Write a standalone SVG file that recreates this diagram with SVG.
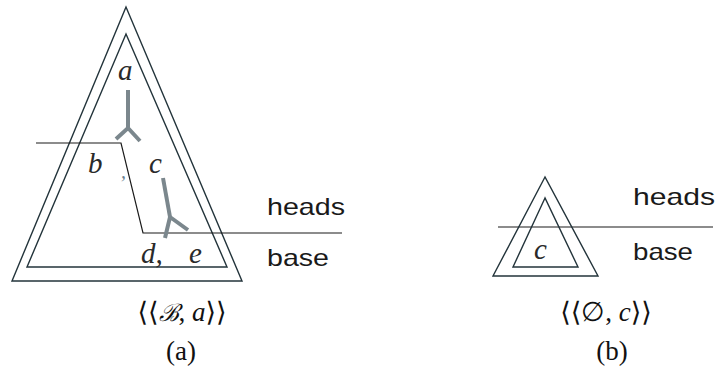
<svg xmlns="http://www.w3.org/2000/svg" width="720" height="369" viewBox="0 0 720 369">
<style>
.tri{fill:none;stroke:#23343b;stroke-width:1.4}
.ln{fill:none;stroke:#1a1a1a;stroke-width:1.2}
.y{fill:none;stroke:#7b878d;stroke-width:4;stroke-linecap:butt}
.m{font-family:"Liberation Serif",serif;font-style:italic;font-size:29px;fill:#2a2a2a}
.lab{font-family:"Liberation Sans",Arial,sans-serif;font-size:24px;fill:#1a1a1a}
.cap{font-family:"Liberation Serif","DejaVu Serif",serif;font-size:27px;fill:#111;text-anchor:middle}
</style>
<rect width="720" height="369" fill="#fff"/>
<g id="treeA">
<polygon class="tri" points="126,7 12,281 242,281"/>
<polygon class="tri" points="126,34 27,267 227,267"/>
</g>
<g id="connectors">
<polyline class="ln" points="36,143 121,143 143,233 342,233"/>
<line class="ln" x1="498" y1="227" x2="713" y2="227"/>
</g>
<g id="yA">
<polyline class="y" points="128,90 128,128"/>
<polyline class="y" points="116,139 128,128 140,141"/>
</g>
<g id="yB">
<polyline class="y" points="163,178 170,217"/>
<polyline class="y" points="165,238 170,217 188,230"/>
</g>
<g id="labelsA">
<text class="m" x="118" y="80">a</text>
<text class="m" x="88" y="173">b</text>
<text class="m" x="121" y="178" style="font-size:20px;fill:#6a8090">,</text>
<text class="m" x="149" y="173">c</text>
<text class="m" x="141" y="263">d,</text>
<text class="m" x="189" y="263">e</text>
</g>
<g id="treeB">
<polygon class="tri" points="545,177 493,276 598,276"/>
<polygon class="tri" points="545,198 513,267 578,267"/>
<text class="m" x="534" y="259">c</text>
</g>
<g id="sideLabels">
<text class="lab" x="267" y="215" textLength="78" lengthAdjust="spacingAndGlyphs">heads</text>
<text class="lab" x="267" y="266" textLength="62" lengthAdjust="spacingAndGlyphs">base</text>
<text class="lab" x="633" y="205" textLength="82" lengthAdjust="spacingAndGlyphs">heads</text>
<text class="lab" x="633" y="260" textLength="60" lengthAdjust="spacingAndGlyphs">base</text>
</g>
<g id="captions">
<text class="cap" x="182" y="321">⟨⟨<tspan font-family="DejaVu Serif" font-style="italic" font-size="24">ℬ</tspan>, <tspan font-style="italic">a</tspan>⟩⟩</text>
<text class="cap" x="181" y="360">(a)</text>
<text class="cap" x="606" y="321">⟨⟨∅, <tspan font-style="italic">c</tspan>⟩⟩</text>
<text class="cap" x="612" y="360">(b)</text>
</g>
</svg>
